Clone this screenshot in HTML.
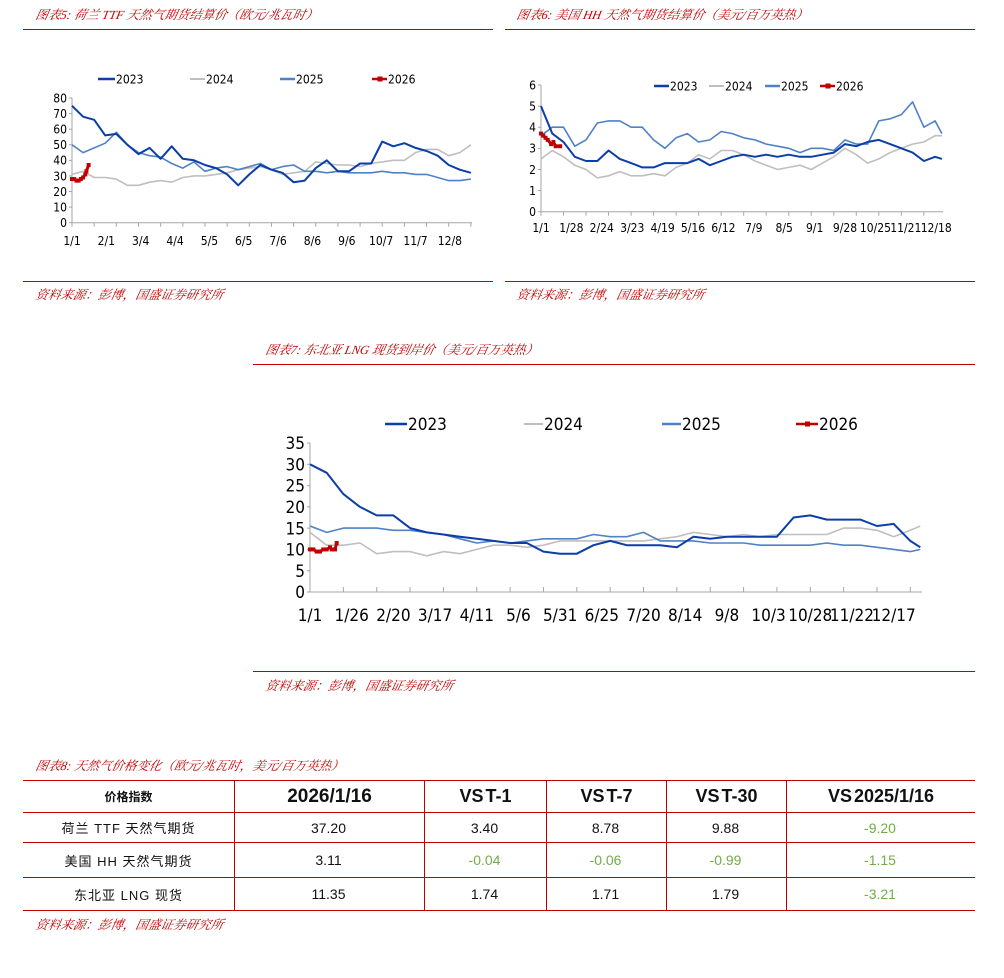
<!DOCTYPE html>
<html><head><meta charset="utf-8">
<style>
body{margin:0;background:#fff;width:1004px;height:978px;position:relative;overflow:hidden;font-family:"Liberation Sans","Noto Sans CJK SC",sans-serif;}
.t{position:absolute;color:#c00000;font-style:italic;font-size:12.5px;white-space:nowrap;font-family:"Liberation Serif","Noto Serif CJK SC",serif;transform:skewX(-12deg);transform-origin:left bottom;}
.rl{position:absolute;height:1px;background:#c00000;}
svg{position:absolute;left:0;top:0;}
table{position:absolute;left:23px;top:780px;border-collapse:collapse;width:952px;}
td{border-top:1px solid #c00000;border-bottom:1px solid #c00000;border-left:1px solid #c00000;text-align:center;padding:0;font-size:14px;color:#111;font-family:"Liberation Sans","Noto Sans CJK SC",sans-serif;}
td:first-child{border-left:none;}
.h td{font-weight:bold;font-size:18px;height:31px;}
.g{color:#70ad47;}
sup{font-size:6px;color:#999;}
</style></head><body>
<div class="t" style="left:34px;top:5px">图表5:  荷兰 TTF 天然气期货结算价（欧元/兆瓦时）</div>
<div class="rl" style="left:23px;top:29px;width:470px"></div>
<div class="t" style="left:515px;top:5px">图表6:  美国 HH 天然气期货结算价（美元/百万英热）</div>
<div class="rl" style="left:505px;top:29px;width:470px"></div>
<div class="rl" style="left:23px;top:281px;width:470px"></div>
<div class="t" style="left:34px;top:285px">资料来源：彭博，国盛证券研究所</div>
<div class="rl" style="left:505px;top:281px;width:470px"></div>
<div class="t" style="left:515px;top:285px">资料来源：彭博，国盛证券研究所</div>
<div class="t" style="left:264px;top:340px">图表7:  东北亚 LNG 现货到岸价（美元/百万英热）</div>
<div class="rl" style="left:253px;top:364px;width:722px"></div>
<div class="rl" style="left:253px;top:671px;width:722px"></div>
<div class="t" style="left:264px;top:676px">资料来源：彭博，国盛证券研究所</div>
<div class="t" style="left:34px;top:756px">图表8:  天然气价格变化（欧元/兆瓦时，美元/百万英热）</div>
<table>
<tr class="h"><td style="width:211px;font-size:12px">价格指数</td><td style="width:189px;font-size:19px">2026/1/16</td><td style="width:121px">VS<sup>·</sup>T-1</td><td style="width:119px">VS<sup>·</sup>T-7</td><td style="width:119px">VS<sup>·</sup>T-30</td><td>VS<sup>·</sup>2025/1/16</td></tr>
<tr style="height:30px"><td style="font-size:13px;letter-spacing:1px">荷兰 TTF 天然气期货</td><td>37.20<sup>·</sup></td><td>3.40<sup>·</sup></td><td>8.78<sup>·</sup></td><td>9.88<sup>·</sup></td><td class="g">-9.20<sup>·</sup></td></tr>
<tr style="height:35px"><td style="font-size:13px;letter-spacing:1px">美国 HH 天然气期货</td><td>3.11<sup>·</sup></td><td class="g">-0.04<sup>·</sup></td><td class="g">-0.06<sup>·</sup></td><td class="g">-0.99<sup>·</sup></td><td class="g">-1.15<sup>·</sup></td></tr>
<tr style="height:33px"><td style="font-size:13px;letter-spacing:1px">东北亚 LNG 现货</td><td>11.35<sup>·</sup></td><td>1.74<sup>·</sup></td><td>1.71<sup>·</sup></td><td>1.79<sup>·</sup></td><td class="g">-3.21<sup>·</sup></td></tr>
</table>
<div class="t" style="left:34px;top:915px">资料来源：彭博，国盛证券研究所</div>
<svg id="s" width="1004" height="978"></svg>
<script>
// ---- Chart 5: TTF ----
const c1Days=[0,10,20,30,40,50,60,70,80,90,100,110,120,130,140,150,160,170,180,190,200,210,220,230,240,250,260,270,280,290,300,310,320,330,340,350,360];
const c1S2023=[75,68,66,56,57,50,44,48,41,49,41,40,37,35,31,24,31,37,34,32,26,27,35,40,33,33,38,38,52,49,51,48,46,43,37,34,32];
const c1S2024=[31,33,29,29,28,24,24,26,27,26,29,30,30,31,32,34,35,36,34,31,32,33,39,38,37,37,36,38,39,40,40,45,47,47,43,45,50];
const c1S2025=[50,45,48,51,58,50,45,43,42,38,35,39,33,35,36,34,36,38,34,36,37,33,33,32,33,32,32,32,33,32,32,31,31,29,27,27,28];
const c1Days2026=[0,2,4,6,8,10,12,13,15];
const c1S2026=[28,28,27,27,28,29,31,33,37];
const c1XLabels=['1/1','2/1','3/4','4/4','5/5','6/5','7/6','8/6','9/6','10/7','11/7','12/8'];
const c1XLabelDays=[0,31,62,93,124,155,186,217,248,279,310,341];
const c1YTicks=[0,10,20,30,40,50,60,70,80];
// ---- Chart 6: HH ----
const c2Days=[0,10,20,30,40,50,60,70,80,90,100,110,120,130,140,150,160,170,180,190,200,210,220,230,240,250,260,270,280,290,300,310,320,330,340,350,356];
const c2S2023=[5.0,3.7,3.3,2.6,2.4,2.4,2.9,2.5,2.3,2.1,2.1,2.3,2.3,2.3,2.5,2.2,2.4,2.6,2.7,2.6,2.7,2.6,2.7,2.6,2.6,2.7,2.8,3.2,3.1,3.3,3.4,3.2,3.0,2.8,2.4,2.6,2.5];
const c2S2024=[2.5,2.9,2.6,2.2,2.0,1.6,1.7,1.9,1.7,1.7,1.8,1.7,2.1,2.3,2.7,2.5,2.9,2.9,2.7,2.4,2.2,2.0,2.1,2.2,2.0,2.3,2.6,3.0,2.7,2.3,2.5,2.8,3.0,3.2,3.3,3.6,3.6];
const c2S2025=[3.6,4.0,4.0,3.1,3.4,4.2,4.3,4.3,4.0,4.0,3.4,3.0,3.5,3.7,3.3,3.4,3.8,3.7,3.5,3.4,3.2,3.1,3.0,2.8,3.0,3.0,2.9,3.4,3.2,3.2,4.3,4.4,4.6,5.2,4.0,4.3,3.7];
const c2Days2026=[0,2,4,6,9,11,13,17];
const c2S2026=[3.7,3.6,3.5,3.4,3.2,3.3,3.1,3.1];
const c2XLabels=['1/1','1/28','2/24','3/23','4/19','5/16','6/12','7/9','8/5','9/1','9/28','10/25','11/21','12/18'];
const c2XLabelDays=[0,27,54,81,108,135,162,189,216,243,270,297,324,351];
const c2YTicks=[0,1,2,3,4,5,6];
// ---- Chart 7: LNG ----
const c3Days=[0,10,20,30,40,50,60,70,80,90,100,110,120,130,140,150,160,170,180,190,200,210,220,230,240,250,260,270,280,290,300,310,320,330,340,350,360,366];
const c3S2023=[30,28,23,20,18,18,15,14,13.5,13,12.5,12,11.5,11.5,9.5,9,9,11,12,11,11,11,10.5,13,12.5,13,13,13,13,17.5,18,17,17,17,15.5,16,12,10.5];
const c3S2024=[14,11,11,11.5,9,9.5,9.5,8.5,9.5,9,10,11,11,10.5,11,12,12,12,12,12,12,12.5,13,14,13.5,13,13.5,13,13.5,13.5,13.5,13.5,15,15,14.5,13,14.5,15.5];
const c3S2025=[15.5,14,15,15,15,14.5,14.5,14,13.5,12.5,11.5,12,11.5,12,12.5,12.5,12.5,13.5,13,13,14,12,12,12,11.5,11.5,11.5,11,11,11,11,11.5,11,11,10.5,10,9.5,10];
const c3Days2026=[0,2,4,6,8,10,12,13,15,16];
const c3S2026=[10,10,9.5,9.5,10,10,10.5,10,10,11.5];
const c3XLabels=['1/1','1/26','2/20','3/17','4/11','5/6','5/31','6/25','7/20','8/14','9/8','10/3','10/28','11/22','12/17'];
const c3XLabelDays=[0,25,50,75,100,125,150,175,200,225,250,275,300,325,350];
const c3YTicks=[0,5,10,15,20,25,30,35];

const NS='http://www.w3.org/2000/svg';
const svg=document.getElementById('s');
const COL={'2023':'#0b3ea8','2024':'#bfbfbf','2025':'#4f81c7','2026':'#c00000'};
function mk(tag,attrs,name,parent){
  const el=document.createElementNS(NS,tag);
  for(const k in attrs) el.setAttribute(k,attrs[k]);
  
  
  (parent||svg).appendChild(el);
  return el;
}
function chart(id,cfg){
  const g=mk('g',{},id+'-chart');
  const xs=d=>cfg.x0+(cfg.x1-cfg.x0)*d/cfg.dmax;
  const ys=v=>cfg.y0-(cfg.y0-cfg.y1)*v/cfg.vmax;
  mk('line',{x1:cfg.x0,y1:cfg.y0,x2:cfg.x1,y2:cfg.y0,stroke:'#a6a6a6','stroke-width':1},id+'-x-axis',g);
  mk('line',{x1:cfg.x0,y1:cfg.y0,x2:cfg.x0,y2:cfg.y1,stroke:'#a6a6a6','stroke-width':1},id+'-y-axis',g);
  cfg.yTicks.forEach(v=>{
    mk('line',{x1:cfg.x0-3,y1:ys(v),x2:cfg.x0,y2:ys(v),stroke:'#a6a6a6'},id+'-y-tick',g);
    const t=mk('text',{x:cfg.x0-5,y:ys(v)+cfg.fs*0.36,'text-anchor':'end','font-size':cfg.fs,fill:'#000','font-family':'DejaVu Sans Condensed, Liberation Sans, sans-serif'},id+'-y-tick-label',g);
    t.textContent=v;
  });
  for(let d=0;d<=cfg.dmax;d+=20){
    mk('line',{x1:xs(d),y1:cfg.y0,x2:xs(d),y2:cfg.y0+cfg.tickDir,stroke:'#a6a6a6'},id+'-x-tick',g);
  }
  cfg.xl.forEach((l,i)=>{
    const t=mk('text',{x:xs(cfg.xd[i]),y:cfg.ly,'text-anchor':'middle','font-size':cfg.fs,fill:'#000','font-family':'DejaVu Sans Condensed, Liberation Sans, sans-serif'},id+'-x-tick-label',g);
    t.textContent=l;
  });
  const series=[['2024',cfg.days,cfg.s2024],['2025',cfg.days,cfg.s2025],['2023',cfg.days,cfg.s2023],['2026',cfg.d26,cfg.s2026]];
  series.forEach(([nm,dd,vv])=>{
    const pts=vv.map((v,i)=>xs(dd[i]).toFixed(1)+','+ys(v).toFixed(1)).join(' ');
    mk('polyline',{points:pts,fill:'none',stroke:COL[nm],'stroke-width':nm==='2026'?3:(nm==='2023'?2:1.6),'stroke-linejoin':'round'},id+'-line-'+nm,g);
    if(nm==='2026') vv.forEach((v,i)=>{
      mk('rect',{x:xs(dd[i])-2,y:ys(v)-2,width:4,height:4,fill:COL[nm]},id+'-point-2026',g);
    });
  });
  cfg.leg.forEach(([nm,lx,tx])=>{
    mk('line',{x1:lx,y1:cfg.legY,x2:tx-1,y2:cfg.legY,stroke:COL[nm],'stroke-width':nm==='2024'?2:2.5},id+'-legend-line-'+nm,g);
    if(nm==='2026') mk('rect',{x:(lx+tx)/2-2.5,y:cfg.legY-2.5,width:5,height:5,fill:COL[nm]},id+'-legend-marker-2026',g);
    const t=mk('text',{x:tx,y:cfg.legY+cfg.lfs*0.36,'font-size':cfg.lfs,fill:'#000','font-family':'DejaVu Sans Condensed, Liberation Sans, sans-serif'},id+'-legend-label-'+nm,g);
    t.textContent=nm;
  });
}
chart('ttf',{x0:72,x1:472,y0:222.7,y1:98,dmax:361,vmax:80,fs:12,ly:245,tickDir:4,yTicks:c1YTicks,xl:c1XLabels,xd:c1XLabelDays,
  days:c1Days,s2023:c1S2023,s2024:c1S2024,s2025:c1S2025,d26:c1Days2026,s2026:c1S2026,
  legY:79,lfs:12,leg:[['2023',98,116],['2024',190,206],['2025',280,296],['2026',372,388]]});
chart('hh',{x0:541,x1:943,y0:211.7,y1:85,dmax:357,vmax:6,fs:12,ly:232,tickDir:4,yTicks:c2YTicks,xl:c2XLabels,xd:c2XLabelDays,
  days:c2Days,s2023:c2S2023,s2024:c2S2024,s2025:c2S2025,d26:c2Days2026,s2026:c2S2026,
  legY:86,lfs:12,leg:[['2023',654,670],['2024',709,725],['2025',765,781],['2026',820,836]]});
chart('lng',{x0:310,x1:922,y0:592,y1:443,dmax:367,vmax:35,fs:17,ly:621,tickDir:-5,yTicks:c3YTicks,xl:c3XLabels,xd:c3XLabelDays,
  days:c3Days,s2023:c3S2023,s2024:c3S2024,s2025:c3S2025,d26:c3Days2026,s2026:c3S2026,
  legY:424,lfs:17,leg:[['2023',385,408],['2024',524,544],['2025',662,682],['2026',796,819]]});
</script>
</body></html>
